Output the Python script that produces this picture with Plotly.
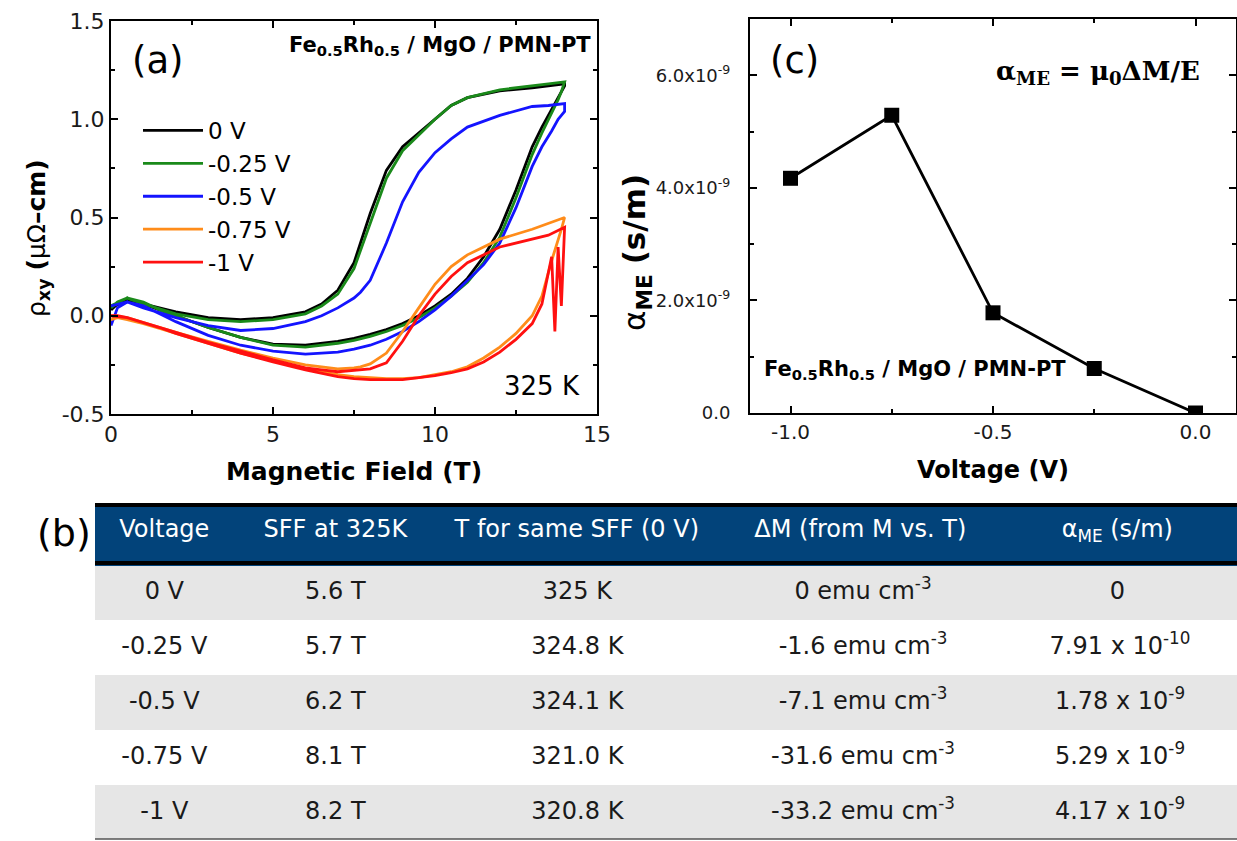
import plotly.graph_objects as go

W, H = 1237, 841


def px(x):
    return x / W


def py(y):
    return 1 - y / H


# ---------------- Panel (a) data ----------------
FIELD_UP = [0, 0.2, 0.5, 1, 1.5, 2, 3, 4, 5, 6, 7, 7.5, 8, 8.5, 9, 9.5, 10, 10.5,
            11, 11.5, 12, 12.5, 13, 13.3, 13.6, 13.7, 13.8, 13.9, 14]
FIELD_DN = [14, 13.5, 13, 12, 11, 10.5, 10, 9.5, 9, 8.5, 8, 7.7, 7.5, 7, 6.5, 6,
            5, 4, 3, 2, 1, 0.5, 0]

LABELS = ["0 V", "-0.25 V", "-0.5 V", "-0.75 V", "-1 V"]
COLORS = ["#000000", "#1a8a1a", "#1414ff", "#ff8c1a", "#ff1010"]

RHO_UP_0V = [0.03, 0.06, 0.08, 0.06, 0.03, 0.0, -0.06, -0.11, -0.145, -0.15, -0.13,
             -0.115, -0.095, -0.07, -0.04, 0.0, 0.05, 0.11, 0.19, 0.3, 0.44, 0.64,
             0.86, 0.96, 1.05, 1.08, 1.11, 1.14, 1.17]
RHO_DN_0V = [1.18, 1.17, 1.16, 1.145, 1.11, 1.07, 1.0, 0.93, 0.86, 0.74, 0.52, 0.37,
             0.27, 0.13, 0.06, 0.02, -0.01, -0.02, -0.01, 0.02, 0.06, 0.08, 0.04]

RHO_UP_025V = [0.04, 0.07, 0.09, 0.07, 0.03, 0.0, -0.06, -0.11, -0.15, -0.16, -0.14,
               -0.125, -0.105, -0.08, -0.05, -0.01, 0.04, 0.1, 0.17, 0.27, 0.4, 0.6,
               0.82, 0.93, 1.03, 1.07, 1.1, 1.14, 1.18]
RHO_DN_025V = [1.19, 1.18, 1.17, 1.15, 1.11, 1.07, 1.0, 0.92, 0.84, 0.7, 0.47, 0.33,
               0.24, 0.11, 0.05, 0.01, -0.02, -0.03, -0.02, 0.01, 0.06, 0.09, 0.05]

RHO_UP_05V = [-0.05, 0.04, 0.07, 0.05, 0.01, -0.03, -0.1, -0.15, -0.18, -0.195, -0.185,
              -0.17, -0.15, -0.12, -0.08, -0.03, 0.03, 0.1, 0.18, 0.26, 0.37, 0.55,
              0.76, 0.86, 0.94, 0.97, 1.0, 1.02, 1.04]
RHO_DN_05V = [1.08, 1.07, 1.065, 1.02, 0.96, 0.9, 0.83, 0.73, 0.58, 0.37, 0.18, 0.12,
              0.09, 0.04, 0.0, -0.03, -0.065, -0.075, -0.05, -0.01, 0.04, 0.07, 0.05]

RHO_UP_075V = [-0.02, -0.01, -0.02, -0.04, -0.065, -0.09, -0.14, -0.19, -0.23, -0.27,
               -0.3, -0.31, -0.315, -0.32, -0.32, -0.315, -0.3, -0.285, -0.26, -0.215,
               -0.16, -0.09, 0.0, 0.1, 0.28, 0.33, 0.38, 0.44, 0.5]
RHO_DN_075V = [0.5, 0.47, 0.44, 0.39, 0.31, 0.25, 0.16, 0.04, -0.08, -0.19, -0.245,
               -0.26, -0.265, -0.27, -0.26, -0.25, -0.215, -0.175, -0.13, -0.085,
               -0.035, -0.01, 0.0]

RHO_UP_1V = [0.0, 0.0, -0.01, -0.035, -0.06, -0.09, -0.14, -0.19, -0.235, -0.275,
             -0.31, -0.32, -0.325, -0.325, -0.325, -0.315, -0.305, -0.29, -0.27,
             -0.235, -0.185, -0.12, -0.04, 0.06, 0.3, -0.08, 0.35, 0.05, 0.45]
RHO_DN_1V = [0.45, 0.41, 0.39, 0.35, 0.27, 0.2, 0.11, 0.0, -0.13, -0.24, -0.27, -0.275,
             -0.28, -0.285, -0.275, -0.265, -0.225, -0.18, -0.135, -0.085, -0.035,
             -0.01, 0.0]

RHO_UP = [RHO_UP_0V, RHO_UP_025V, RHO_UP_05V, RHO_UP_075V, RHO_UP_1V]
RHO_DN = [RHO_DN_0V, RHO_DN_025V, RHO_DN_05V, RHO_DN_075V, RHO_DN_1V]

# ---------------- Panel (c) data ----------------
VOLTAGE = [-1.0, -0.75, -0.5, -0.25, 0.0]
ALPHA_ME = [4.17e-9, 5.29e-9, 1.78e-9, 7.91e-10, 0.0]
ALPHA_TICKS = [0, 2e-9, 4e-9, 6e-9]
ALPHA_TICKTEXT = ["0.0", "2.0x10<sup>-9</sup>", "4.0x10<sup>-9</sup>", "6.0x10<sup>-9</sup>"]

# ---------------- Table (b) data ----------------
TABLE_HEADER = ["Voltage", "SFF at 325K", "T for same SFF (0 V)",
                "ΔM (from M vs. T)", "α<sub>ME</sub> (s/m)"]
COL_VOLTAGE = ["0 V", "-0.25 V", "-0.5 V", "-0.75 V", "-1 V"]
COL_SFF = ["5.6 T", "5.7 T", "6.2 T", "8.1 T", "8.2 T"]
COL_TEMP = ["325 K", "324.8 K", "324.1 K", "321.0 K", "320.8 K"]
COL_DM = ["0 emu cm<sup>-3</sup>", "-1.6 emu cm<sup>-3</sup>", "-7.1 emu cm<sup>-3</sup>",
          "-31.6 emu cm<sup>-3</sup>", "-33.2 emu cm<sup>-3</sup>"]
COL_ALPHA = ["0", "7.91 x 10<sup>-10</sup>", "1.78 x 10<sup>-9</sup>",
             "5.29 x 10<sup>-9</sup>", "4.17 x 10<sup>-9</sup>"]

FONT = "DejaVu Sans, Liberation Sans, sans-serif"
SERIF = "DejaVu Serif, Liberation Serif, serif"
PAD = "<sup>\u00a0</sup>"


def padded(col):
    return [v if "<sup>" in v else v + PAD for v in col]


fig = go.Figure()

for lab, col, up, dn in zip(LABELS, COLORS, RHO_UP, RHO_DN):
    fig.add_trace(go.Scatter(
        x=FIELD_UP + FIELD_DN, y=up + dn, mode="lines", name=lab,
        line=dict(color=col, width=2.8), xaxis="x", yaxis="y"))

fig.add_trace(go.Scatter(
    x=VOLTAGE, y=ALPHA_ME, mode="lines+markers", showlegend=False,
    line=dict(color="black", width=2.8),
    marker=dict(symbol="square", size=15, color="black"),
    xaxis="x2", yaxis="y2"))

# Table
gray, white = "#e6e6e6", "#ffffff"
row_fill = [gray, white, gray, white, gray]
fig.add_trace(go.Table(
    domain=dict(x=[px(95), 1], y=[py(840), py(503)]),
    columnwidth=[144, 198, 286, 280, 234],
    header=dict(values=padded(TABLE_HEADER), fill_color="#02437a",
                line=dict(color="#02437a", width=1),
                font=dict(family=FONT, size=24, color="white"),
                align="center", height=62),
    cells=dict(values=[padded(COL_VOLTAGE), padded(COL_SFF), padded(COL_TEMP),
                       COL_DM, padded(COL_ALPHA)],
               fill_color=[row_fill] * 5, line=dict(color=[row_fill] * 5, width=1),
               font=dict(family=FONT, size=24, color="#1a1a1a"),
               align="center", height=55),
))

axis_common = dict(showline=True, linecolor="black", linewidth=2, mirror="allticks",
                   ticks="inside", ticklen=7, tickwidth=1.5, tickcolor="black",
                   showgrid=False, zeroline=False, automargin=False)
minor_common = dict(ticks="inside", ticklen=4, tickcolor="black", tickwidth=1.5)

fig.update_layout(
    width=W, height=H, margin=dict(l=0, r=0, t=0, b=0, autoexpand=False),
    paper_bgcolor="white", plot_bgcolor="white",
    font=dict(family=FONT, color="black"),
    xaxis=dict(domain=[px(111), px(597)], range=[0, 15], tickvals=[0, 5, 10, 15],
               minor=dict(tickvals=[2.5, 7.5, 12.5], **minor_common),
               tickfont=dict(family=FONT, size=22, color="#1a1a1a"),
               title=dict(text="<b>Magnetic Field (T)</b>", font=dict(size=25),
                          standoff=16),
               anchor="y", **axis_common),
    yaxis=dict(domain=[py(414), py(21)], range=[-0.5, 1.5],
               tickvals=[-0.5, 0, 0.5, 1.0, 1.5],
               ticktext=["-0.5", "0.0", "0.5", "1.0", "1.5"],
               minor=dict(tickvals=[-0.25, 0.25, 0.75, 1.25], **minor_common),
               tickfont=dict(family=FONT, size=22, color="#1a1a1a"),
               anchor="x", **axis_common),
    xaxis2=dict(domain=[px(750), px(1236)], range=[-1.1, 0.1],
                tickvals=[-1.0, -0.5, 0.0], ticktext=["-1.0", "-0.5", "0.0"],
                minor=dict(tickvals=[-0.75, -0.25], **minor_common),
                tickfont=dict(family=FONT, size=20, color="#1a1a1a"),
                title=dict(text="<b>Voltage (V)</b>", font=dict(size=24), standoff=18),
                anchor="y2", **axis_common),
    yaxis2=dict(domain=[py(413), py(19)], range=[0, 7e-9],
                tickvals=ALPHA_TICKS, ticktext=ALPHA_TICKTEXT,
                minor=dict(tickvals=[1e-9, 3e-9, 5e-9, 7e-9], **minor_common),
                tickfont=dict(family=FONT, size=18, color="#1a1a1a"),
                ticklabelstandoff=14,
                anchor="x2", **axis_common),
    legend=dict(x=px(138), y=py(109), xanchor="left", yanchor="top",
                bgcolor="rgba(0,0,0,0)", font=dict(family=FONT, size=23),
                itemwidth=60, tracegroupgap=0),
    showlegend=True,
)

ann = [
    dict(x=px(38), y=py(238), text="ρ<sub><b>xy</b></sub> <b>(</b>μΩ<b>–cm)</b>",
         font=dict(size=25, family=FONT), textangle=-90,
         xanchor="center", yanchor="middle"),
    dict(x=px(636), y=py(252), text="α<sub><b>ME</b></sub> <b>(s/m)</b>",
         font=dict(size=31, family=FONT), textangle=-90,
         xanchor="center", yanchor="middle"),
    dict(x=px(158), y=py(60), text="(a)", font=dict(size=37, family=FONT),
         xanchor="center", yanchor="middle"),
    dict(x=px(593), y=py(46), text="<b>Fe<sub>0.5</sub>Rh<sub>0.5</sub> / MgO / PMN-PT</b>",
         font=dict(size=21, family=FONT), xanchor="right", yanchor="middle"),
    dict(x=px(582), y=py(386), text="325 K", font=dict(size=26, family=FONT),
         xanchor="right", yanchor="middle"),
    dict(x=px(794), y=py(60), text="(c)", font=dict(size=37, family=FONT),
         xanchor="center", yanchor="middle"),
    dict(x=px(1202), y=py(72), text="<b>α<sub>ME</sub> = μ<sub>0</sub>ΔM/E</b>",
         font=dict(size=26, family=SERIF), xanchor="right", yanchor="middle"),
    dict(x=px(762), y=py(370), text="<b>Fe<sub>0.5</sub>Rh<sub>0.5</sub> / MgO / PMN-PT</b>",
         font=dict(size=21, family=FONT), xanchor="left", yanchor="middle"),
    dict(x=px(64), y=py(533), text="(b)", font=dict(size=38, family=FONT),
         xanchor="center", yanchor="middle"),
]
for a in ann:
    a.update(xref="paper", yref="paper", showarrow=False)
fig.update_layout(annotations=ann)

fig.update_layout(shapes=[
    dict(type="line", xref="paper", yref="paper", x0=px(95), x1=1, y0=py(505), y1=py(505),
         line=dict(color="black", width=4)),
    dict(type="line", xref="paper", yref="paper", x0=px(95), x1=1, y0=py(563), y1=py(563),
         line=dict(color="black", width=4)),
    dict(type="line", xref="paper", yref="paper", x0=px(95), x1=1, y0=py(839), y1=py(839),
         line=dict(color="#555555", width=1.5)),
])

fig.write_html("out.html", config={"displayModeBar": False},
               post_script="document.body.style.margin='0';document.body.style.overflow='hidden';")
